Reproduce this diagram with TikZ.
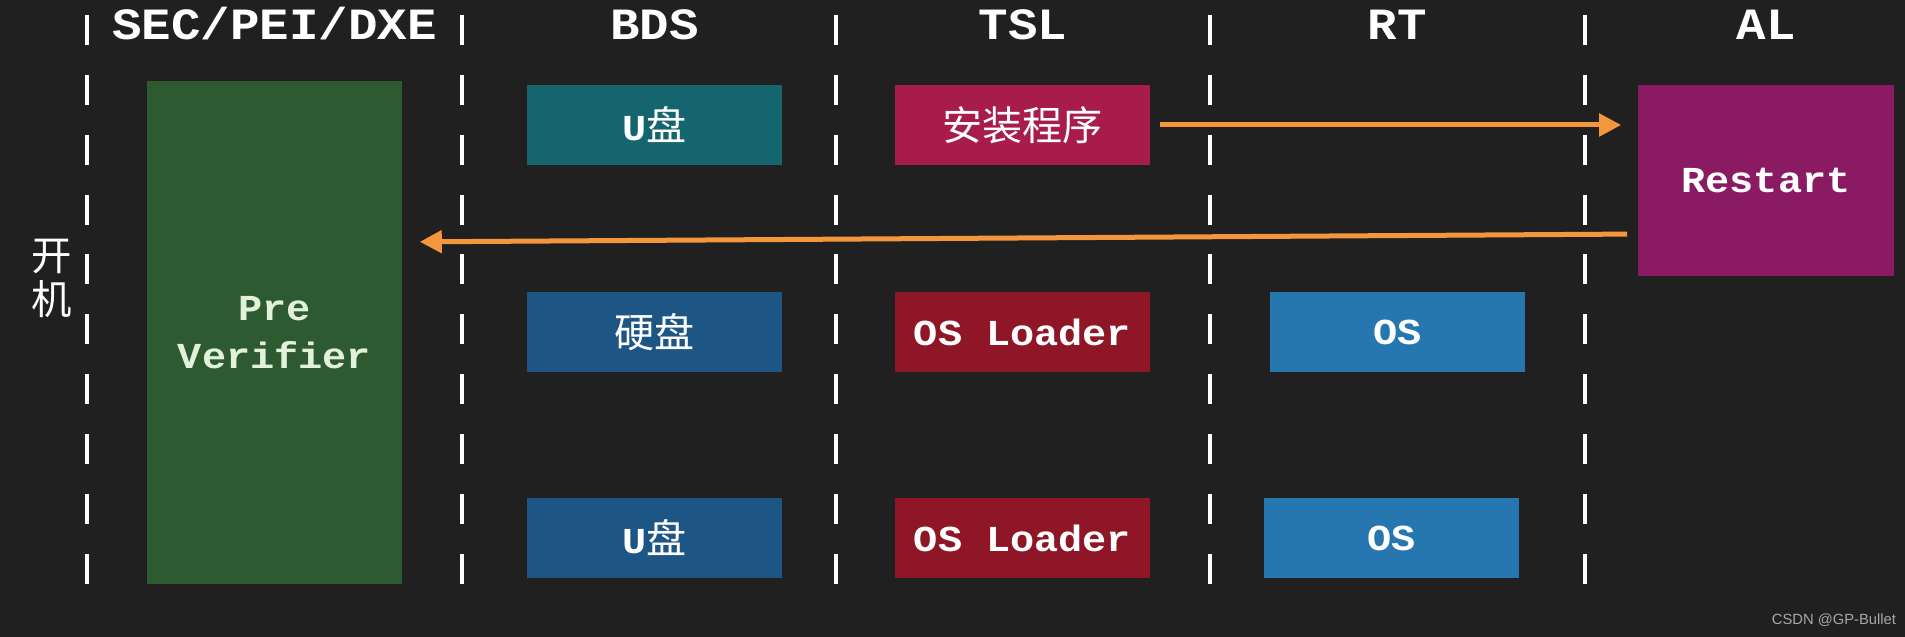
\documentclass[tikz,border=0pt]{standalone}
\usepackage{fontspec}
\usetikzlibrary{arrows.meta}
\newfontfamily\monof{Liberation Mono}[FakeStretch=1.1]
\newfontfamily\cjkf{Noto Sans CJK SC}
\newfontfamily\sansf{Liberation Sans}
\definecolor{bg}{HTML}{202020}
\definecolor{pvgreen}{HTML}{2E5A31}
\definecolor{pvtext}{HTML}{E2F2DA}
\definecolor{teal}{HTML}{15656F}
\definecolor{instc}{HTML}{A81C4C}
\definecolor{rstc}{HTML}{8A1B62}
\definecolor{diskc}{HTML}{1D5585}
\definecolor{loadc}{HTML}{8F1626}
\definecolor{osc}{HTML}{2677B0}
\definecolor{arrowc}{HTML}{F4963C}
\definecolor{wm}{HTML}{A8A8A8}
\newcommand{\zh}[1]{{\cjkf\mdseries\fontsize{11.4}{13.7}\selectfont #1}}
\begin{document}
\begin{tikzpicture}[x=0.01cm,y=-0.01cm,
  blk/.style={draw=none, minimum width=2.55cm, minimum height=0.80cm, inner sep=0pt,
    text=white, font=\monof\bfseries\fontsize{10.4}{13.7}\selectfont},
  head/.style={text=white, font=\monof\bfseries\fontsize{12.7}{15}\selectfont, anchor=base, inner sep=0pt},
  lane/.style={white, line width=0.045cm, dash pattern=on 0.30cm off 0.298cm},
  flow/.style={draw=arrowc, line width=0.05cm, -{Triangle[length=0.22cm,width=0.22cm]}}
]
\fill[bg] (0,0) rectangle (1905,637);
\useasboundingbox (0,0) rectangle (1905,637);

% lanes
\foreach \x in {87,462,836,1210,1585}
  \draw[lane] (\x,15) -- (\x,585);

% headers
\node[head] (h1) at (274.5,40) {SEC/PEI/DXE};
\node[head] (h2) at (654.5,40) {BDS};
\node[head] (h3) at (1023,40) {TSL};
\node[head] (h4) at (1397,40) {RT};
\node[head] (h5) at (1766,40) {AL};

% boot label
\node[text=white, font=\cjkf\fontsize{11.5}{12.5}\selectfont, align=center, inner sep=0pt] (boot) at (52,278) {开\\机};

% boxes
\node[blk, fill=pvgreen, minimum height=5.03cm, text=pvtext, align=center] (pv) at (274.5,332.5) {Pre\\Verifier};
\node[blk, fill=teal] (ub1) at (654.5,125) {U\zh{盘}};
\node[blk, fill=instc] (inst) at (1022.5,125) {\zh{安装程序}};
\node[blk, fill=rstc, minimum width=2.56cm, minimum height=1.91cm] (rst) at (1766,180.5) {Restart};
\node[blk, fill=diskc] (hd) at (654.5,332) {\zh{硬盘}};
\node[blk, fill=loadc] (osl1) at (1022.5,332) {OS Loader};
\node[blk, fill=osc] (os1) at (1397.5,332) {OS};
\node[blk, fill=diskc] (ub2) at (654.5,538) {U\zh{盘}};
\node[blk, fill=loadc] (osl2) at (1022.5,538) {OS Loader};
\node[blk, fill=osc] (os2) at (1391.5,538) {OS};

% arrows
\draw[flow, shorten <=0.09cm, shorten >=0.16cm] (inst.east) -- (inst.east -| rst.west);
\draw[flow, shorten <=0.10cm, shorten >=0.17cm] ([yshift=-0.535cm]rst.west) -- ([yshift=0.905cm]pv.east);

% watermark
\node[text=wm, font=\sansf\fontsize{4.2}{5}\selectfont, inner sep=0pt] (wmk) at (1834,620) {CSDN @GP-Bullet};
\end{tikzpicture}
\end{document}
